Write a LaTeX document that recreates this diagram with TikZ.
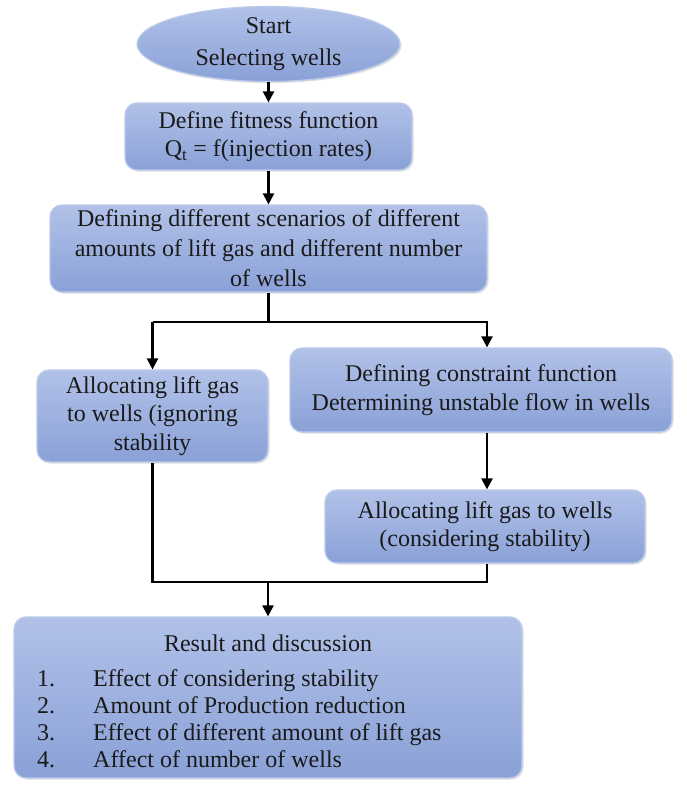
\documentclass[tikz,border=0pt]{standalone}
\usepackage{fontspec}
\setmainfont{Liberation Serif}
\usetikzlibrary{shapes.geometric,arrows.meta,shadows}
\definecolor{boxtop}{HTML}{B1C1E8}
\definecolor{boxbot}{HTML}{8AA1D7}
\definecolor{boxedge}{HTML}{BCCAEC}
\definecolor{txt}{HTML}{1A1A1A}
\tikzset{
  boxbase/.style={draw=boxedge, line width=1.2pt, top color=boxtop, bottom color=boxbot,
    drop shadow={opacity=0.25, shadow xshift=1.5pt, shadow yshift=-1.5pt},
    align=center, text=txt, font=\fontsize{24}{28.5}\selectfont, inner sep=0pt},
  flowbox/.style={boxbase, rectangle, rounded corners=12pt},
  startoval/.style={boxbase, ellipse, font=\fontsize{24}{32}\selectfont},
  conn/.style={line width=2.2pt, black},
  arr/.style={conn, -{Triangle[length=11pt,width=11pt]}},
  plain/.style={text=txt, font=\fontsize{24}{27}\selectfont, inner sep=0pt}
}
\begin{document}
\begin{tikzpicture}[x=1pt,y=-1pt]
\useasboundingbox (0,0) rectangle (687,787);
\node[startoval, minimum width=263pt, minimum height=72pt] (start) at (268.5,44) {Start\\Selecting wells};
\node[flowbox, minimum width=287pt, minimum height=67pt] (fit) at (268.5,136.5) {Define fitness function\\Q$_{\mathrm{t}}$ = f(injection rates)};
\node[flowbox, minimum width=437pt, minimum height=87pt, font=\fontsize{24}{30}\selectfont] (scen) at (268.5,248.5) {Defining different scenarios of different\\amounts of lift gas and different number\\of wells};
\node[flowbox, minimum width=231pt, minimum height=92pt] (ign) at (152.5,416) {Allocating lift gas\\to wells (ignoring\\stability};
\node[flowbox, minimum width=382pt, minimum height=84pt] (cons) at (481,390) {Defining constraint function\\Determining unstable flow in wells};
\node[flowbox, minimum width=320pt, minimum height=73pt] (stab) at (485,526.5) {Allocating lift gas to wells\\(considering stability)};
\node[flowbox, minimum width=508pt, minimum height=161pt] (res) at (268,697.5) {};
\node[plain] (restitle) at (268,643) {Result and discussion};
\node[plain, anchor=north west, align=left] (reslist) at (37,667) {%
\begin{tabular}{@{}p{56pt}@{}l@{}}
1. & Effect of considering stability\\
2. & Amount of Production reduction\\
3. & Effect of different amount of lift gas\\
4. & Affect of number of wells
\end{tabular}};
\coordinate (split) at (268.5,322);
\coordinate (splitL) at (152.5,322);
\coordinate (splitR) at (487,322);
\coordinate (joinL) at (152.5,582);
\coordinate (joinR) at (487,582);
\coordinate (join) at (268,582);
\draw[arr] (start) -- (fit);
\draw[arr] (fit) -- (scen);
\draw[conn] (scen.south) -- (split);
\draw[arr] (splitL) -- (ign.north);
\draw[arr] (splitL) -- (splitR) -- (cons.north -| splitR);
\draw[arr] (cons.south -| splitR) -- (stab.north -| splitR);
\draw[conn] (ign.south) -- (joinL) -- (joinR) -- (stab.south -| joinR);
\draw[arr] (join) -- (res.north);
\end{tikzpicture}
\end{document}
